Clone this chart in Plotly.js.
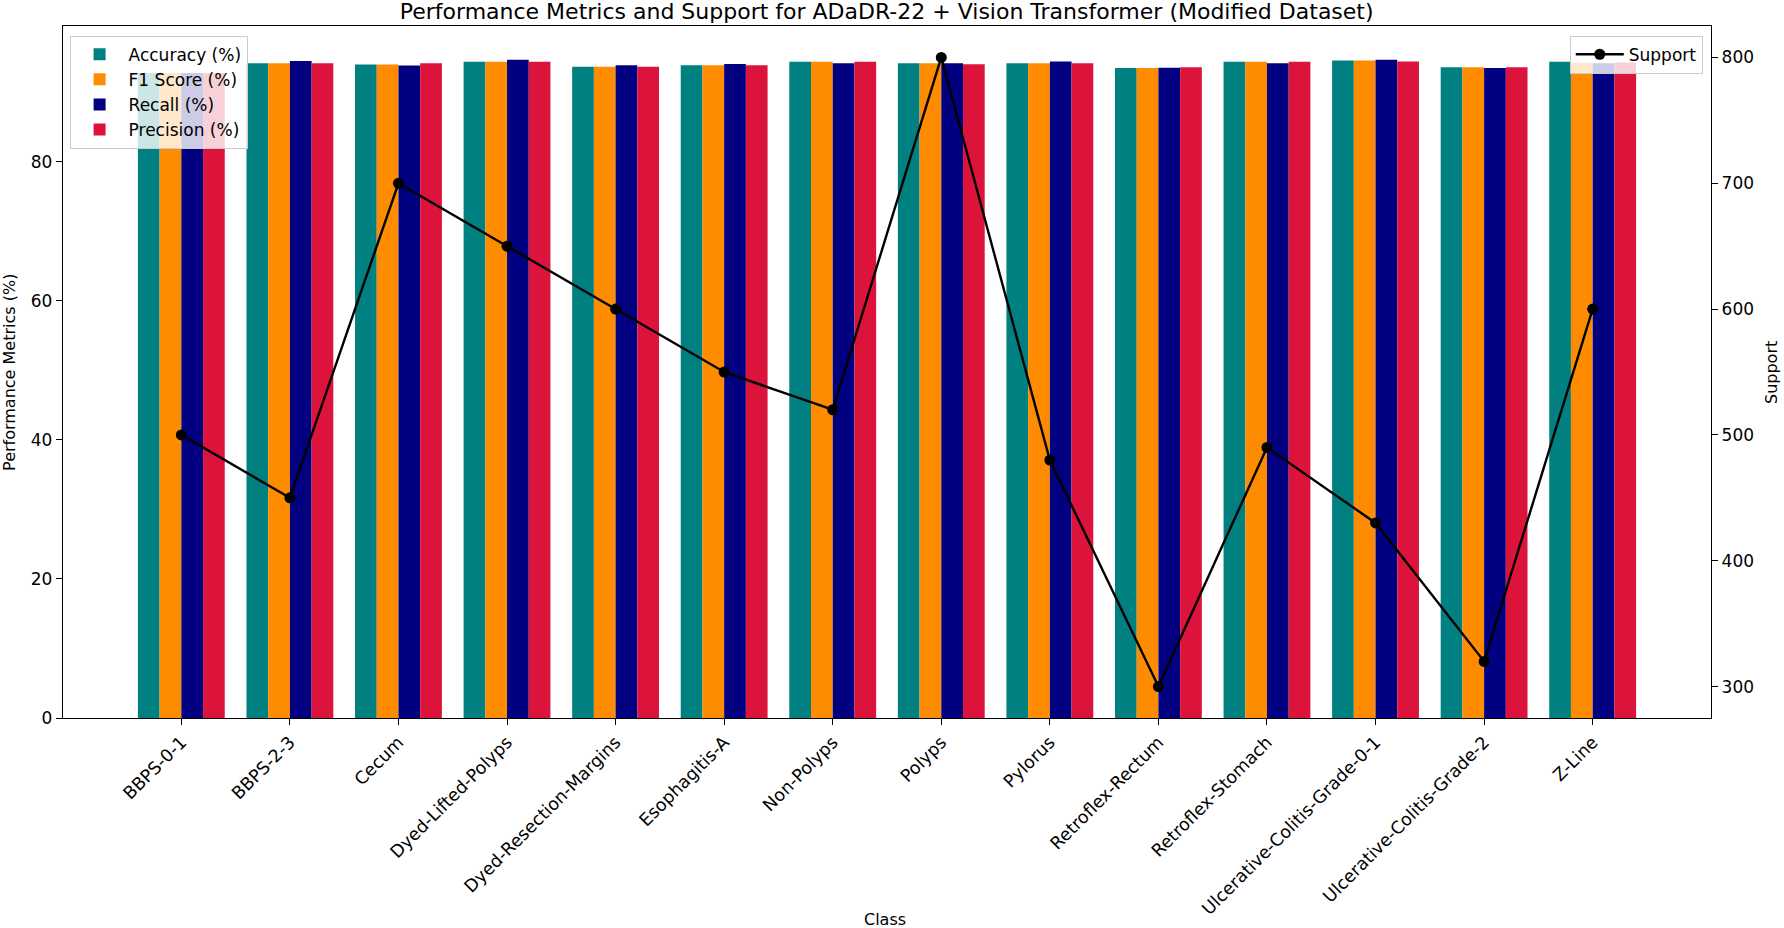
<!DOCTYPE html>
<html>
<head>
<meta charset="utf-8">
<script src="https://cdn.plot.ly/plotly-3.0.1.min.js"></script>
<style>html,body{margin:0;padding:0;background:#fff;}#chart{width:1784px;height:928px;}</style>
</head>
<body>
<div id="chart"></div>
<script>
const categories = ["BBPS-0-1","BBPS-2-3","Cecum","Dyed-Lifted-Polyps","Dyed-Resection-Margins","Esophagitis-A","Non-Polyps","Polyps","Pylorus","Retroflex-Rectum","Retroflex-Stomach","Ulcerative-Colitis-Grade-0-1","Ulcerative-Colitis-Grade-2","Z-Line"];
const accuracy  = [92.8, 94.2, 94.0, 94.4, 93.7, 93.9, 94.4, 94.2, 94.2, 93.5, 94.4, 94.6, 93.6, 94.4];
const f1Score   = [92.8, 94.2, 94.0, 94.4, 93.7, 93.9, 94.4, 94.2, 94.2, 93.5, 94.4, 94.6, 93.6, 94.3];
const recall    = [92.8, 94.5, 93.85, 94.7, 93.9, 94.1, 94.2, 94.2, 94.45, 93.55, 94.2, 94.7, 93.5, 94.2];
const precision = [92.8, 94.2, 94.2, 94.4, 93.7, 93.9, 94.4, 94.05, 94.2, 93.6, 94.4, 94.45, 93.6, 94.3];
const support   = [500, 450, 700, 650, 600, 550, 520, 800, 480, 300, 490, 430, 320, 600];
const leftTicks = [0, 20, 40, 60, 80];
const rightTicks = [300, 400, 500, 600, 700, 800];

const FONT = "DejaVu Sans, sans-serif";
const mkBar = (name, y, color) => ({
  type: "bar", name: name, x: categories, y: y,
  marker: {color: color, line: {width: 0}},
  legend: "legend", hoverinfo: "x+y+name"
});
const traces = [
  mkBar("Accuracy (%)", accuracy, "#008080"),
  mkBar("F1 Score (%)", f1Score, "#FF8C00"),
  mkBar("Recall (%)", recall, "#000080"),
  mkBar("Precision (%)", precision, "#DC143C"),
  {type: "scatter", mode: "lines+markers", name: "Support", x: categories, y: support,
   yaxis: "y2", legend: "legend2",
   line: {color: "#000", width: 2.4}, marker: {color: "#000", size: 11, symbol: "circle"}}
];

const layout = {
  width: 1784, height: 928,
  paper_bgcolor: "#fff", plot_bgcolor: "#fff",
  margin: {l: 63, r: 73, t: 26, b: 210},
  font: {family: FONT, color: "#000", size: 17},
  title: {text: "Performance Metrics and Support for ADaDR-22 + Vision Transformer (Modified Dataset)",
          font: {family: FONT, size: 22, color: "#000"}, x: 0.497, xanchor: "center", y: 0.988, yanchor: "middle"},
  barmode: "group", bargap: 0.2, bargroupgap: 0,
  xaxis: {
    type: "category", range: [-1.09, 14.09],
    showline: true, linecolor: "#000", linewidth: 1.4, mirror: true,
    ticks: "outside", ticklen: 6, tickcolor: "#000", tickwidth: 1.3,
    tickangle: -45, tickfont: {family: FONT, size: 17.5, color: "#000"},
    showgrid: false, zeroline: false,
    title: {text: ""}
  },
  yaxis: {
    range: [0, 99.55], tickvals: leftTicks, ticktext: leftTicks.map(String),
    showline: true, linecolor: "#000", linewidth: 1.4,
    ticks: "outside", ticklen: 6, tickcolor: "#000", tickwidth: 1.3,
    tickfont: {family: FONT, size: 17, color: "#000"},
    showgrid: false, zeroline: false,
    title: {text: ""}
  },
  yaxis2: {
    overlaying: "y", side: "right", range: [275, 825],
    tickvals: rightTicks, ticktext: rightTicks.map(String),
    showline: true, linecolor: "#000", linewidth: 1.4,
    ticks: "outside", ticklen: 6, tickcolor: "#000", tickwidth: 1.3,
    tickfont: {family: FONT, size: 17, color: "#000"},
    showgrid: false, zeroline: false,
    title: {text: ""}
  },
  annotations: [
    {text: "Class", xref: "paper", yref: "paper", x: 0.4985, y: -0.2905, xanchor: "center", yanchor: "middle",
     showarrow: false, font: {family: FONT, size: 16, color: "#000"}},
    {text: "Performance Metrics (%)", xref: "paper", yref: "paper", x: -0.0328, y: 0.5, xanchor: "center", yanchor: "middle",
     textangle: -90, showarrow: false, font: {family: FONT, size: 16, color: "#000"}},
    {text: "Support", xref: "paper", yref: "paper", x: 1.0364, y: 0.5, xanchor: "center", yanchor: "middle",
     textangle: -90, showarrow: false, font: {family: FONT, size: 16, color: "#000"}}
  ],
  legend: {
    x: 0.004, y: 0.986, xanchor: "left", yanchor: "top",
    bgcolor: "rgba(255,255,255,0.8)", bordercolor: "#cccccc", borderwidth: 1,
    font: {family: FONT, size: 17, color: "#000"}, traceorder: "normal",
    itemsizing: "constant", itemwidth: 48, tracegroupgap: 0
  },
  legend2: {
    x: 0.995, y: 0.986, xanchor: "right", yanchor: "top",
    bgcolor: "rgba(255,255,255,0.8)", bordercolor: "#cccccc", borderwidth: 1,
    font: {family: FONT, size: 17, color: "#000"}, itemwidth: 48
  },
  showlegend: true
};

Plotly.newPlot("chart", traces, layout, {displayModeBar: false, responsive: false});
</script>
</body>
</html>
